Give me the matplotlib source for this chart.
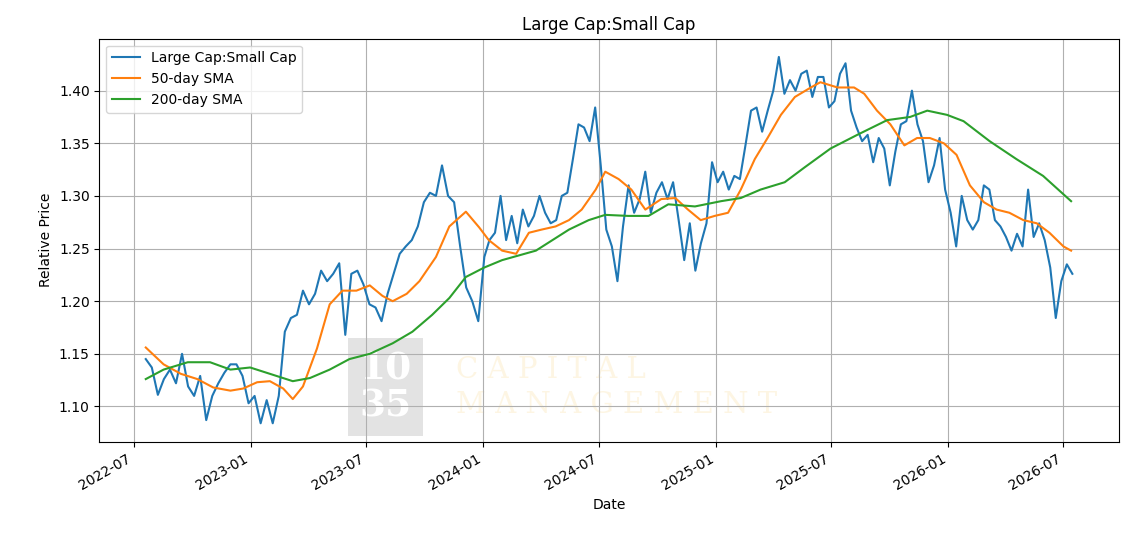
import matplotlib
matplotlib.use("Agg")
import matplotlib.pyplot as plt
import pandas as pd

# Ratio values, in three stretches of roughly 9-10 day steps
ratio_a = [
    1.145, 1.137, 1.111, 1.126, 1.135, 1.122, 1.150, 1.119, 1.110, 1.129,
    1.087, 1.110, 1.122, 1.132, 1.140, 1.140, 1.129, 1.103, 1.110, 1.084,
    1.106, 1.084, 1.110, 1.171, 1.184, 1.187, 1.210, 1.197, 1.207, 1.229,
    1.219, 1.226, 1.236, 1.168, 1.226, 1.229, 1.216, 1.197, 1.194, 1.181,
    1.207, 1.226, 1.245, 1.252, 1.258, 1.271, 1.294, 1.303, 1.300, 1.329,
    1.300, 1.294, 1.252, 1.213, 1.200, 1.181, 1.242,
]
ratio_b = [
    1.258, 1.265, 1.300, 1.258, 1.281, 1.255, 1.287, 1.271, 1.281, 1.300,
    1.284, 1.274, 1.277, 1.300, 1.303, 1.335, 1.368, 1.365, 1.352, 1.384,
    1.329, 1.268, 1.252, 1.219, 1.271, 1.310, 1.284, 1.297, 1.323, 1.284,
    1.303, 1.313, 1.297, 1.313, 1.277, 1.239, 1.274, 1.229, 1.255, 1.274,
    1.332, 1.313, 1.323, 1.306, 1.319, 1.316, 1.348, 1.381, 1.384, 1.361,
    1.381, 1.400, 1.432, 1.397, 1.410, 1.400,
]
ratio_c = [
    1.416, 1.419, 1.394, 1.413, 1.413, 1.384, 1.390, 1.416, 1.426, 1.381,
    1.365, 1.352, 1.358, 1.332, 1.355, 1.345, 1.310, 1.342, 1.368, 1.371,
    1.400, 1.368, 1.352, 1.313, 1.329, 1.355, 1.306, 1.284, 1.252, 1.300,
    1.277, 1.268, 1.277, 1.310, 1.306, 1.277, 1.271, 1.261, 1.248, 1.264,
    1.252, 1.306, 1.261, 1.274, 1.258, 1.232, 1.184, 1.219, 1.235, 1.226,
]
ratio = ratio_a + ratio_b + ratio_c
ratio_dates = (
    pd.date_range("2022-07-20", "2024-01-03", periods=len(ratio_a)).tolist()
    + pd.date_range("2024-01-11", "2025-05-06", periods=len(ratio_b)).tolist()
    + pd.date_range("2025-05-15", "2026-07-15", periods=len(ratio_c)).tolist()
)

sma50_dates = pd.to_datetime([
    "2022-07-20", "2022-08-17", "2022-09-13", "2022-10-09", "2022-11-03", "2022-11-30",
    "2022-12-20", "2023-01-11", "2023-01-31", "2023-02-21", "2023-03-08", "2023-03-24",
    "2023-04-15", "2023-05-05", "2023-05-25", "2023-06-16", "2023-07-07", "2023-07-27",
    "2023-08-12", "2023-09-03", "2023-09-23", "2023-10-19", "2023-11-09", "2023-12-05",
    "2023-12-26", "2024-01-10", "2024-01-31", "2024-02-22", "2024-03-13", "2024-04-02",
    "2024-04-24", "2024-05-15", "2024-06-04", "2024-06-26", "2024-07-11", "2024-08-01",
    "2024-08-21", "2024-09-12", "2024-10-07", "2024-10-29", "2024-11-18", "2024-12-08",
    "2024-12-30", "2025-01-20", "2025-02-09", "2025-03-03", "2025-03-23", "2025-04-13",
    "2025-05-05", "2025-05-30", "2025-06-14", "2025-07-11", "2025-08-06", "2025-08-22",
    "2025-09-11", "2025-10-02", "2025-10-24", "2025-11-13", "2025-12-03", "2025-12-25",
    "2026-01-14", "2026-02-04", "2026-02-26", "2026-03-18", "2026-04-07", "2026-04-29",
    "2026-05-20", "2026-06-09", "2026-07-01", "2026-07-13",
])
sma50 = [
    1.156, 1.140, 1.131, 1.126, 1.118, 1.115, 1.117, 1.123, 1.124, 1.117,
    1.107, 1.119, 1.155, 1.197, 1.210, 1.210, 1.215, 1.205, 1.200, 1.207,
    1.219, 1.242, 1.271, 1.285, 1.270, 1.258, 1.248, 1.245, 1.265, 1.268,
    1.271, 1.277, 1.287, 1.306, 1.323, 1.316, 1.306, 1.287, 1.297, 1.298,
    1.287, 1.277, 1.281, 1.284, 1.306, 1.335, 1.355, 1.377, 1.394, 1.403,
    1.408, 1.403, 1.403, 1.397, 1.381, 1.368, 1.348, 1.355, 1.355, 1.350,
    1.339, 1.310, 1.294, 1.287, 1.284, 1.277, 1.274, 1.265, 1.252, 1.248,
]

sma200_dates = pd.to_datetime([
    "2022-07-20", "2022-08-17", "2022-09-24", "2022-10-29", "2022-11-30", "2022-12-31",
    "2023-01-31", "2023-03-08", "2023-04-04", "2023-05-05", "2023-06-05", "2023-07-07",
    "2023-08-12", "2023-09-12", "2023-10-13", "2023-11-09", "2023-12-05", "2024-01-03",
    "2024-01-31", "2024-03-24", "2024-05-15", "2024-06-15", "2024-07-11", "2024-08-16",
    "2024-09-17", "2024-10-18", "2024-11-29", "2025-01-09", "2025-02-09", "2025-03-12",
    "2025-04-19", "2025-05-20", "2025-06-30", "2025-08-11", "2025-09-27", "2025-11-02",
    "2025-11-29", "2025-12-30", "2026-01-25", "2026-03-07", "2026-04-18", "2026-05-30",
    "2026-07-13",
])
sma200 = [
    1.126, 1.135, 1.142, 1.142, 1.135, 1.137, 1.131, 1.124, 1.127, 1.135,
    1.145, 1.150, 1.160, 1.171, 1.187, 1.203, 1.223, 1.232, 1.239, 1.248,
    1.268, 1.277, 1.282, 1.281, 1.281, 1.292, 1.290, 1.295, 1.298, 1.306,
    1.313, 1.327, 1.345, 1.358, 1.372, 1.375, 1.381, 1.377, 1.371, 1.352,
    1.335, 1.319, 1.295,
]

fig, ax = plt.subplots(figsize=(11.3, 5.52), dpi=100)
ax.plot(ratio_dates, ratio, color="#1f77b4", lw=1.5, label="Large Cap:Small Cap")
ax.plot(sma50_dates, sma50, color="#ff7f0e", lw=1.5, label="50-day SMA")
ax.plot(sma200_dates, sma200, color="#2ca02c", lw=1.5, label="200-day SMA")

ax.set_title("Large Cap:Small Cap")
ax.set_xlabel("Date")
ax.set_ylabel("Relative Price")
ax.grid(True, color="#b0b0b0", lw=0.8)
ax.legend(loc="upper left")

# faint watermark
ax.text(0.255, 0.135, "10\n35", transform=ax.transAxes, ha="left", va="center",
        fontsize=27, family="DejaVu Serif", fontweight="bold", color="white",
        linespacing=1.05,
        bbox=dict(boxstyle="square,pad=0.3", fc="#c8c8c8", ec="none", alpha=0.5),
        zorder=0)
ax.text(0.35, 0.135, "C A P I T A L\nM A N A G E M E N T", transform=ax.transAxes,
        ha="left", va="center", fontsize=21, family="DejaVu Serif",
        color="#fdf3dc", alpha=0.8, linespacing=1.3, zorder=0)

fig.autofmt_xdate()
fig.subplots_adjust(left=0.088, right=0.99, top=0.93, bottom=0.2)
fig.savefig("out.png", dpi=100)
